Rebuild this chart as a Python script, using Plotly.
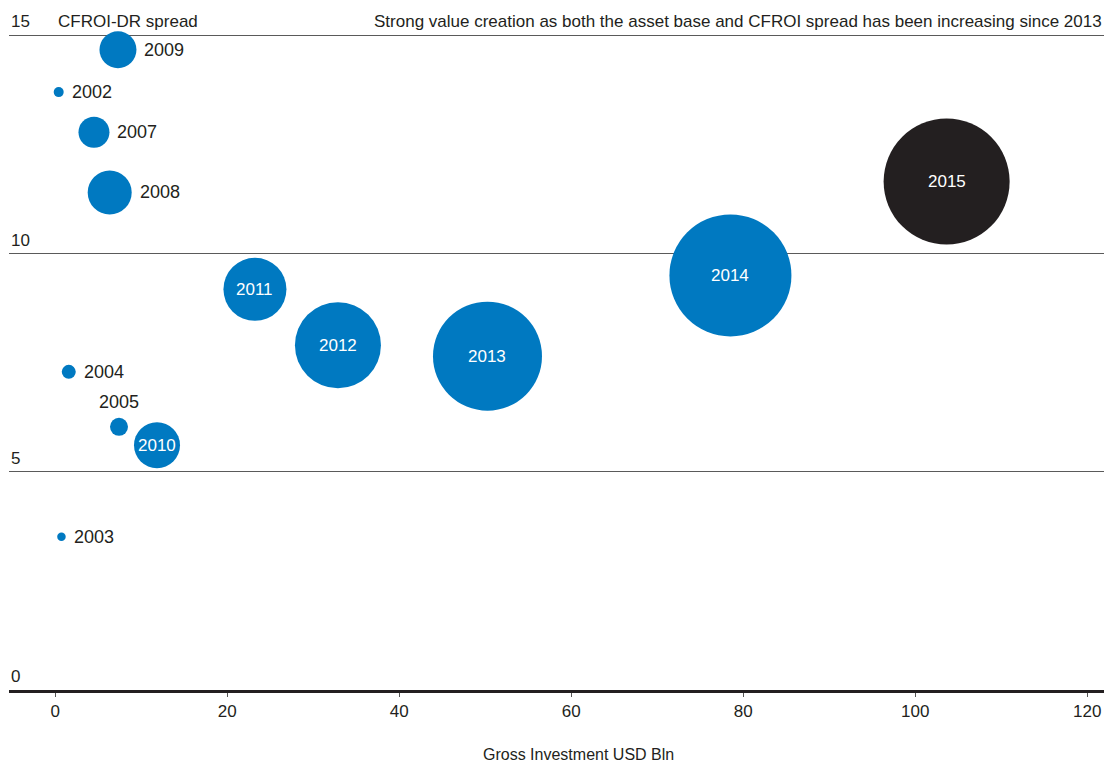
import plotly.graph_objects as go

# CFROI-DR spread vs gross investment, bubble = relative size
years = ["2002", "2003", "2004", "2005", "2007", "2008", "2009",
         "2010", "2011", "2012", "2013", "2014", "2015"]
gross_investment = [0.4, 0.72, 1.57, 7.41, 4.5, 6.33, 7.29,
                    11.83, 23.22, 32.87, 50.26, 78.51, 103.65]
cfroi_spread = [13.70, 3.51, 7.29, 6.03, 12.78, 11.40, 14.67,
                5.61, 9.18, 7.90, 7.65, 9.50, 11.65]
bubble_size = [10, 8.5, 14, 18, 31, 44, 37, 46, 63, 86, 109, 122, 126]
y_ticks = [0, 5, 10, 15]
x_ticks = [0, 20, 40, 60, 80, 100, 120]

BLUE = "#0079c1"
DARK = "#231f20"
FONT = "Liberation Sans"

colors = [DARK if y == "2015" else BLUE for y in years]

fig = go.Figure()
fig.add_trace(go.Scatter(
    x=gross_investment, y=cfroi_spread, mode="markers",
    marker=dict(size=bubble_size, sizemode="diameter", color=colors,
                opacity=1, line=dict(width=0)),
    cliponaxis=False, showlegend=False, hoverinfo="text", text=years,
))

# labels: big bubbles inside (white), small ones to the right
annotations = []
for yr, x, y, s in zip(years, gross_investment, cfroi_spread, bubble_size):
    if s >= 46:
        annotations.append(dict(x=x, y=y, text=yr, showarrow=False,
                                font=dict(color="white", size=17, family=FONT)))
    elif yr == "2005":
        annotations.append(dict(x=x, y=y, text=yr, showarrow=False,
                                yanchor="bottom", yshift=s / 2 + 4,
                                font=dict(color=DARK, size=18, family=FONT)))
    else:
        annotations.append(dict(x=x, y=y, text=yr, showarrow=False,
                                xanchor="left", xshift=s / 2 + 6,
                                font=dict(color=DARK, size=18, family=FONT)))

# y tick labels sit above their gridline at the left edge
for t in y_ticks:
    annotations.append(dict(xref="paper", x=0, y=t, text=str(t), showarrow=False,
                            xanchor="left", yanchor="bottom", xshift=0, yshift=2,
                            font=dict(color=DARK, size=17, family=FONT)))

annotations += [
    dict(xref="paper", x=0.043, y=15, text="CFROI-DR spread", showarrow=False,
         xanchor="left", yanchor="bottom", yshift=2,
         font=dict(color=DARK, size=17, family=FONT)),
    dict(xref="paper", x=1, y=15, text="Strong value creation as both the asset base and CFROI spread has been increasing since 2013",
         showarrow=False, xanchor="right", yanchor="bottom", yshift=2,
         font=dict(color=DARK, size=17, family=FONT)),
    dict(xref="paper", yref="paper", x=0.5205, y=0, text="Gross Investment USD Bln",
         showarrow=False, yanchor="middle", yshift=-64,
         font=dict(color=DARK, size=16, family=FONT)),
]

# page body adds an 8px offset, so the figure is drawn 8px smaller
fig.update_layout(
    width=1111, height=754,
    margin=dict(l=1, r=15, t=23, b=72),
    plot_bgcolor="white", paper_bgcolor="white",
    annotations=annotations,
    font=dict(family=FONT, color=DARK),
)
fig.update_xaxes(
    range=[-5.38, 121.95], tickvals=x_ticks, showgrid=False, zeroline=False,
    showline=True, linecolor=DARK, linewidth=3,
    ticks="outside", ticklen=4, tickcolor="#555555", tickwidth=1,
    tickfont=dict(size=17, color=DARK, family=FONT),
)
fig.update_yaxes(
    range=[0, 15.1], tickvals=y_ticks, showticklabels=False,
    showgrid=True, gridcolor="#5a5a5a", gridwidth=1.3, zeroline=False,
)

fig.write_html("out.html")
